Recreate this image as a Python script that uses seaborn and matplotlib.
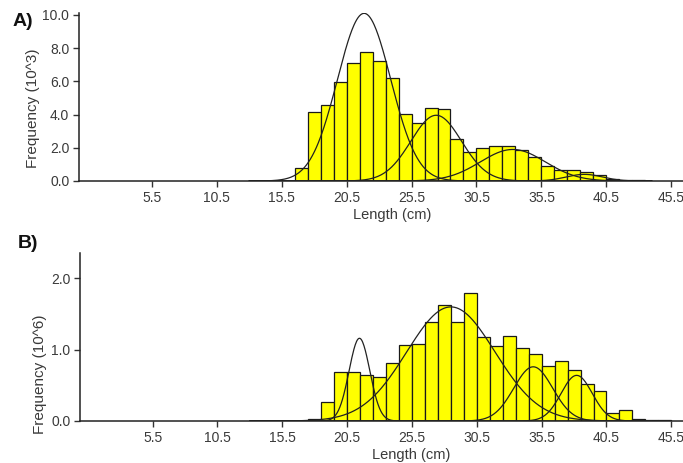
import numpy as np
import pandas as pd
import matplotlib
matplotlib.use("Agg")
import matplotlib.pyplot as plt
import seaborn as sns

# ---------------- data ----------------
# Panel A: length classes (cm, bin centres) and frequencies (x10^3)
len_a = [17, 18, 19, 20, 21, 22, 23, 24, 25, 26, 27, 28, 29, 30, 31, 32, 33,
         34, 35, 36, 37, 38, 39, 40, 41, 42, 43]
freq_a = [0.8, 4.16, 4.56, 5.96, 7.13, 7.75, 7.2, 6.18, 4.06, 3.51, 4.38, 4.32,
          2.51, 1.75, 2.0, 2.1, 2.1, 1.85, 1.47, 0.92, 0.64, 0.66, 0.54, 0.36,
          0.12, 0.08, 0.05]
# Fitted normal components A: mean, peak height, sd
comp_a_mean = [21.85, 27.4, 33.3, 38.8]
comp_a_peak = [10.1, 3.96, 1.9, 0.4]
comp_a_sd = [2.05, 1.95, 2.5, 1.4]

# Panel B: length classes (cm) and frequencies (x10^6)
len_b = [18, 19, 20, 21, 22, 23, 24, 25, 26, 27, 28, 29, 30, 31, 32, 33, 34,
         35, 36, 37, 38, 39, 40, 41, 42, 43, 44, 45]
freq_b = [0.03, 0.27, 0.69, 0.69, 0.645, 0.61, 0.81, 1.06, 1.085, 1.39, 1.62,
          1.39, 1.8, 1.18, 1.05, 1.19, 1.03, 0.94, 0.77, 0.84, 0.71, 0.52,
          0.42, 0.11, 0.15, 0.03, 0.02, 0.02]
comp_b_mean = [21.45, 28.5, 34.85, 38.2]
comp_b_peak = [1.16, 1.6, 0.76, 0.64]
comp_b_sd = [0.8, 3.4, 1.5, 1.2]

x_ticks = [5.5, 10.5, 15.5, 20.5, 25.5, 30.5, 35.5, 40.5, 45.5]

# ---------------- style ----------------
sns.set_theme(style="ticks")
plt.rcParams["font.family"] = ["Liberation Sans", "DejaVu Sans"]
TXT = "#3a3a3a"

fig = plt.figure(figsize=(6.83, 4.63), dpi=100)
W, H = 683, 463


def add_ax(left_px, base_px, top_px, right_px):
    return fig.add_axes([left_px / W, 1 - base_px / H,
                         (right_px - left_px) / W, (base_px - top_px) / H])


ax_a = add_ax(79, 181, 12.5, 683)
ax_b = add_ax(80, 421, 252.7, 683)


def draw(ax, lens, freqs, means, peaks, sds, ymax, yticks, ylabel, xlab_xy):
    df = pd.DataFrame({"len": lens, "freq": freqs})
    sns.histplot(data=df, x="len", weights="freq", binwidth=1,
                 binrange=(min(lens) - 0.5, max(lens) + 0.5),
                 color="#ffff00", edgecolor="#1a1a1a", linewidth=0.9,
                 alpha=1.0, ax=ax, stat="count")
    xs = np.linspace(13.0, 44.0, 600)
    for m, p, s in zip(means, peaks, sds):
        cdf = pd.DataFrame({"x": xs, "y": p * np.exp(-0.5 * ((xs - m) / s) ** 2)})
        sns.lineplot(data=cdf, x="x", y="y", color="#222222", linewidth=0.9,
                     ax=ax)
    ax.set_xlim(-0.1, 46.4)
    ax.set_ylim(0, ymax)
    ax.set_xticks(x_ticks)
    ax.set_xticklabels([f"{t:.1f}" for t in x_ticks])
    ax.set_yticks(yticks)
    ax.set_yticklabels([f"{t:.1f}" for t in yticks])
    ax.tick_params(axis="both", labelsize=10, colors="#333333",
                   labelcolor=TXT, length=4, width=1, pad=3)
    for sp in ["top", "right"]:
        ax.spines[sp].set_visible(False)
    for sp in ["left", "bottom"]:
        ax.spines[sp].set_color("#222222")
        ax.spines[sp].set_linewidth(1.1)
    ax.set_facecolor("white")
    ax.set_xlabel("Length (cm)", fontsize=10.5, color=TXT)
    ax.xaxis.set_label_coords(*xlab_xy)
    ax.set_ylabel(ylabel, fontsize=11, color=TXT)


draw(ax_a, len_a, freq_a, comp_a_mean, comp_a_peak, comp_a_sd, 10.15,
     [0, 2, 4, 6, 8, 10], "Frequency (10^3)", (0.518, -0.16))
draw(ax_b, len_b, freq_b, comp_b_mean, comp_b_peak, comp_b_sd, 2.36,
     [0, 1, 2], "Frequency (10^6)", (0.549, -0.16))

ax_a.yaxis.set_label_coords(-0.0646, 0.433)
ax_b.yaxis.set_label_coords(-0.055, 0.28)

fig.text(13 / W, 1 - 22 / H, "A)", fontsize=14, fontweight="bold",
         color="#111111", va="center", ha="left")
fig.text(18 / W, 1 - 244 / H, "B)", fontsize=14, fontweight="bold",
         color="#111111", va="center", ha="left")

fig.savefig("out.png", dpi=100, facecolor="white")
